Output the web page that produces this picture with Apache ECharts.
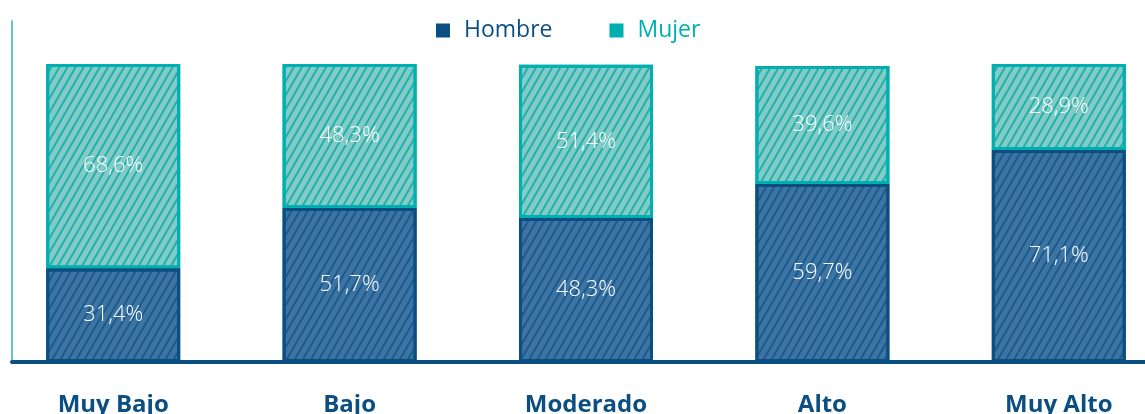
<!doctype html>
<html>
<head>
<meta charset="utf-8" />
<script src="https://cdn.jsdelivr.net/npm/echarts@6/dist/echarts.min.js"></script>
<style>
  body { margin: 0; background: #fff; }
  #chart { width: 1145px; height: 414px; }
</style>
</head>
<body>
<div id="chart"></div>
<script>
const categories = ["Muy Bajo", "Bajo", "Moderado", "Alto", "Muy Alto"];
const hombre = [31.4, 51.7, 48.3, 59.7, 71.1];
const mujer = [68.6, 48.3, 51.4, 39.6, 28.9];

const dark = "#0b4f82";
const teal = "#00b0b0";
const font = "Open Sans";

const fmt = (p) => p.value.toFixed(1).replace(".", ",") + "%";
// square icon with empty room on its right, so the text sits further from it
const legendIcon = "path://M0,0H14V14H0Z M23,7L23.01,7";

const chart = echarts.init(document.getElementById("chart"), null, { renderer: "canvas" });
chart.setOption({
  animation: false,
  backgroundColor: "#ffffff",
  textStyle: { fontFamily: font },
  legend: {
    top: 14,
    left: 431,
    icon: legendIcon,
    itemWidth: 23,
    itemHeight: 14,
    itemGap: 57,
    textStyle: { fontFamily: font, fontSize: 23 },
    data: [
      { name: "Hombre", itemStyle: { color: dark, borderWidth: 0, decal: "none" }, textStyle: { color: dark } },
      { name: "Mujer", itemStyle: { color: teal, borderWidth: 0, decal: "none" }, textStyle: { color: teal } }
    ]
  },
  grid: [
    // axis frame
    { left: 12, right: 0, top: 21, bottom: 52, outerBoundsMode: "none" },
    // bars (bands wider than the frame)
    { left: -5, width: 1182, top: 21, bottom: 52, outerBoundsMode: "none" }
  ],
  xAxis: [
    {
      gridIndex: 0, type: "category", data: categories,
      axisLine: { lineStyle: { color: dark, width: 4 } },
      axisTick: { show: false }, axisLabel: { show: false }
    },
    {
      gridIndex: 1, type: "category", data: categories,
      axisLine: { show: false }, axisTick: { show: false },
      axisLabel: { color: dark, fontFamily: font, fontWeight: "bold", fontSize: 24, margin: 31 }
    }
  ],
  yAxis: [
    {
      gridIndex: 0, type: "value", min: 0, max: 114.4,
      axisLine: { show: true, lineStyle: { color: "#62caca", width: 2 } },
      axisTick: { show: false }, axisLabel: { show: false }, splitLine: { show: false }
    },
    {
      gridIndex: 1, type: "value", min: 0, max: 114.4, show: false,
      splitLine: { show: false }
    }
  ],
  series: [
    {
      name: "Hombre", type: "bar", stack: "t", xAxisIndex: 1, yAxisIndex: 1,
      data: hombre, barWidth: 134, z: 3,
      itemStyle: {
        color: "#3c75a4", borderColor: dark, borderWidth: 3,
        decal: { symbol: "rect", symbolSize: 1, dashArrayX: [1, 0], dashArrayY: [2, 5], rotation: -Math.PI / 3, color: "#1d598c" }
      },
      label: { show: true, position: "inside", color: "#fff", fontFamily: font, fontWeight: 300, fontSize: 22, formatter: fmt }
    },
    {
      name: "Mujer", type: "bar", stack: "t", xAxisIndex: 1, yAxisIndex: 1,
      data: mujer, barWidth: 134, z: 2,
      itemStyle: {
        color: "#82cbc6", borderColor: teal, borderWidth: 3,
        decal: { symbol: "rect", symbolSize: 1, dashArrayX: [1, 0], dashArrayY: [2, 5], rotation: -Math.PI / 3, color: "#22b0ac" }
      },
      label: { show: true, position: "inside", color: "#fff", fontFamily: font, fontWeight: 300, fontSize: 22, formatter: fmt }
    }
  ]
});
</script>
</body>
</html>
